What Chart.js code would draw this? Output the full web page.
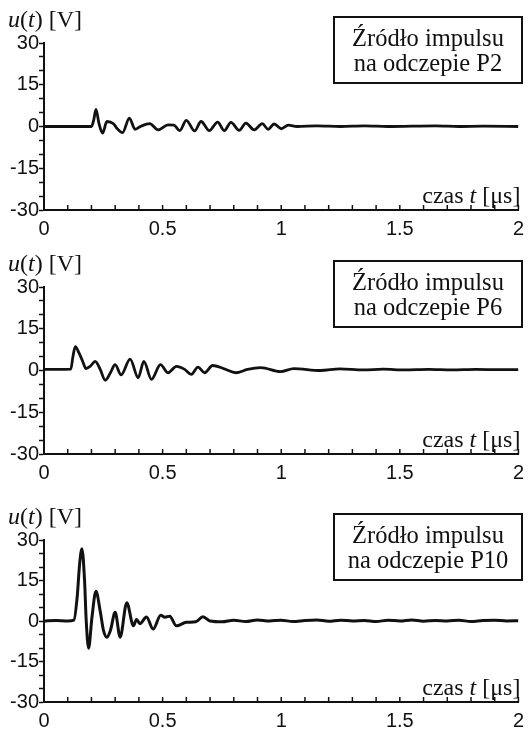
<!DOCTYPE html>
<html>
<head>
<meta charset="utf-8">
<title>u(t) - impulsy</title>
<script src="https://cdn.jsdelivr.net/npm/chart.js@4.4.0/dist/chart.umd.min.js"></script>
<style>
  body { margin: 0; background: #fff; }
  .panel { position: absolute; left: 0; width: 531px; }
</style>
</head>
<body>
<div class="panel" style="top:0px;height:245px"><canvas id="chartP2"></canvas></div>
<div class="panel" style="top:244px;height:245px"><canvas id="chartP6"></canvas></div>
<div class="panel" style="top:497px;height:241px"><canvas id="chartP10"></canvas></div>

<script>
// axis ticks
const xTickLabels = [0, 0.5, 1, 1.5, 2];
const yTickLabels = [-30, -15, 0, 15, 30];

// source on tap P2 - time [us], voltage [V]
const tP2 = [0, 0.2, 0.21, 0.219, 0.232, 0.247, 0.265, 0.293, 0.307, 0.331, 0.36, 0.384, 0.411, 0.446, 0.481, 0.523,
  0.548, 0.572, 0.6, 0.635, 0.662, 0.697, 0.732, 0.76, 0.788, 0.823, 0.851, 0.886, 0.92, 0.945, 0.97, 1.0, 1.03,
  1.067, 1.15, 1.25, 1.35, 1.45, 1.55, 1.65, 1.75, 1.85, 2.0];
const uP2 = [0, 0, 2.5, 6.1, 1.0, -2.4, 1.8, 1.0, -0.6, -2.2, 3.0, -1.0, 0.2, 1.0, -1.2, 0.6,
  0.5, -1.5, 2.2, -1.6, 1.8, -1.5, 1.6, -1.5, 1.5, -1.4, 1.2, -1.2, 1.0, -1.0, 0.9, -0.8, 0.5,
  0, 0.2, 0, 0.2, 0, 0.1, 0.2, 0, 0.1, 0];

// source on tap P6
const tP6 = [0, 0.05, 0.113, 0.122, 0.132, 0.148, 0.163, 0.177, 0.195, 0.216, 0.237, 0.258, 0.28, 0.3, 0.325,
  0.363, 0.397, 0.421, 0.453, 0.491, 0.523, 0.558, 0.593, 0.621, 0.649, 0.677, 0.711, 0.76, 0.809, 0.858,
  0.914, 0.997, 1.053, 1.165, 1.248, 1.346, 1.43, 1.52, 1.62, 1.72, 1.82, 1.92, 2.0];
const uP6 = [0.4, 0.4, 0.5, 5.0, 8.6, 6.2, 3.3, 0.7, 1.5, 3.3, 0.4, -3.5, -0.8, 2.1, -1.6,
  4.1, -2.6, 3.3, -3.2, 2.1, -0.8, 1.5, 0.4, -1.4, 1.2, -0.8, 1.8, 0.6, -0.8, 0.4,
  1.0, -0.4, 0.7, 0, 0.6, 0.2, 0.5, 0.2, 0.4, 0.2, 0.4, 0.3, 0.3];

// source on tap P10
const tP10 = [0, 0.05, 0.1, 0.126, 0.14, 0.15, 0.16, 0.171, 0.178, 0.188, 0.202, 0.219, 0.237, 0.251, 0.265,
  0.28, 0.3, 0.321, 0.349, 0.377, 0.39, 0.404, 0.432, 0.46, 0.492, 0.51, 0.53, 0.558, 0.6, 0.64, 0.67,
  0.7, 0.75, 0.8, 0.85, 0.9, 0.95, 1.0, 1.05, 1.1, 1.15, 1.2, 1.25, 1.3, 1.35, 1.4, 1.45, 1.5, 1.55,
  1.6, 1.65, 1.7, 1.75, 1.8, 1.85, 1.9, 1.95, 2.0];
const uP10 = [0, 0.2, 0, 0.3, 9, 21, 26.8, 15, 0, -10.1, 1.2, 11, 3.6, -3.6, -6,
  -3.5, 3.2, -6, 6.8, -1.8, 0.6, -1, 1.5, -3, 2.1, 1.4, 1.8, -1.8, -0.5, -0.3, 1.6,
  0, -0.3, 0.3, -0.2, 0.4, 0, 0.3, -0.2, 0.2, 0.4, -0.1, 0.3, 0, 0.2, -0.2, 0.3, 0, 0.4,
  -0.1, 0.2, 0, 0.3, -0.2, 0.2, 0.3, 0, 0.1];

const SERIF = '"Liberation Serif", "Times New Roman", serif';
const SANS = '"Liberation Sans", Arial, sans-serif';

// draws text made of [string, italic] pieces
function drawRich(ctx, parts, x, y, align, size) {
    let total = 0;
    parts.forEach(p => {
        ctx.font = (p[1] ? 'italic ' : '') + size + 'px ' + SERIF;
        total += ctx.measureText(p[0]).width;
    });
    let cx = align === 'right' ? x - total : x;
    ctx.textAlign = 'left';
    parts.forEach(p => {
        ctx.font = (p[1] ? 'italic ' : '') + size + 'px ' + SERIF;
        ctx.fillText(p[0], cx, y);
        cx += ctx.measureText(p[0]).width;
    });
}

const panelText = {
    id: 'panelText',
    afterDraw(chart, args, opts) {
        const ctx = chart.ctx;
        const area = chart.chartArea;
        const xs = chart.scales.x;
        ctx.save();
        ctx.fillStyle = '#111';
        ctx.strokeStyle = '#111';

        // x ticks point into the plot
        ctx.lineWidth = 1.5;
        xs.ticks.forEach(t => {
            const px = xs.getPixelForValue(t.value);
            ctx.beginPath();
            ctx.moveTo(px, area.bottom);
            ctx.lineTo(px, area.bottom - 5);
            ctx.stroke();
        });

        ctx.textBaseline = 'alphabetic';
        drawRich(ctx, [['u', true], ['(', false], ['t', true], [') [V]', false]], 8, area.top - 16, 'left', 24);
        drawRich(ctx, [['czas ', false], ['t', true], [' [\u03bcs]', false]], area.right + 2, area.bottom - 7, 'right', 24);

        // label box
        const bx = 334, bw = 188, by = area.top - 26, bh = 66;
        ctx.fillStyle = '#fff';
        ctx.fillRect(bx, by, bw, bh);
        ctx.lineWidth = 2;
        ctx.strokeRect(bx, by, bw, bh);
        ctx.fillStyle = '#111';
        ctx.font = '24.5px ' + SERIF;
        ctx.textAlign = 'center';
        ctx.textBaseline = 'middle';
        ctx.fillText('\u0179r\u00f3d\u0142o impulsu', bx + bw / 2, area.top - 3);
        ctx.fillText('na odczepie ' + opts.tap, bx + bw / 2, area.top + 22);
        ctx.restore();
    }
};

function isLabel(v, list) {
    return list.some(l => Math.abs(l - v) < 1e-6);
}

function makeChart(id, times, volts, tap, padBottom, lineW) {
    const points = times.map((t, i) => ({ x: t, y: volts[i] }));
    return new Chart(document.getElementById(id), {
        type: 'line',
        data: {
            datasets: [{
                data: points,
                borderColor: '#111',
                borderWidth: lineW,
                pointRadius: 0,
                cubicInterpolationMode: 'monotone',
                fill: false
            }]
        },
        options: {
            responsive: true,
            maintainAspectRatio: false,
            animation: false,
            events: [],
            layout: { padding: { top: 43, right: 8, bottom: padBottom, left: 0 } },
            plugins: {
                legend: { display: false },
                tooltip: { enabled: false },
                panelText: { tap: tap }
            },
            scales: {
                x: {
                    type: 'linear',
                    min: 0,
                    max: 2,
                    grid: { display: false, drawTicks: false },
                    border: { display: true, color: '#111', width: 2 },
                    ticks: {
                        stepSize: 0.1,
                        autoSkip: false,
                        maxRotation: 0,
                        padding: 7,
                        color: '#111',
                        font: { family: SANS, size: 20 },
                        callback: v => isLabel(v, xTickLabels) ? String(Math.round(v * 10) / 10) : ''
                    },
                    afterFit: s => { s.height = 25; }
                },
                y: {
                    min: -30,
                    max: 30,
                    grid: { drawOnChartArea: false, tickLength: 5, tickColor: '#111', tickWidth: 1.5 },
                    border: { display: true, color: '#111', width: 2 },
                    ticks: {
                        stepSize: 5,
                        autoSkip: false,
                        padding: 0,
                        color: '#111',
                        font: { family: SANS, size: 20 },
                        callback: v => isLabel(v, yTickLabels) ? String(v) : ''
                    },
                    afterFit: s => { s.width = 44; }
                }
            }
        },
        plugins: [panelText]
    });
}

makeChart('chartP2', tP2, uP2, 'P2', 10, 2.8);
makeChart('chartP6', tP6, uP6, 'P6', 10, 2.8);
makeChart('chartP10', tP10, uP10, 'P10', 11, 3);
</script>
</body>
</html>
